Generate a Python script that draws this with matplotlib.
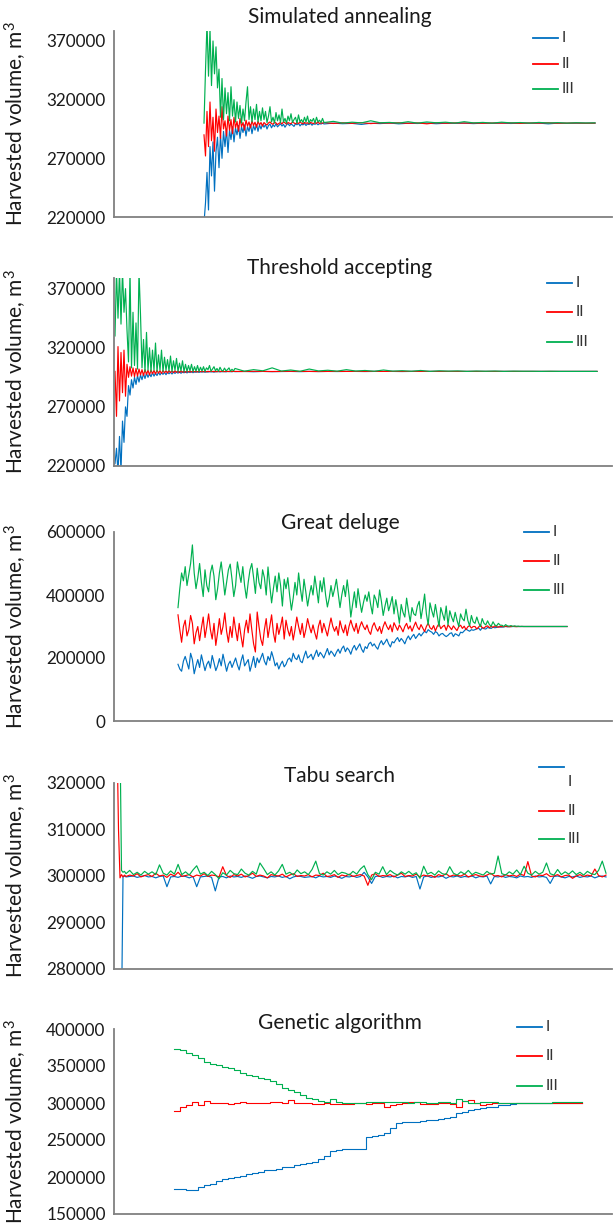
import numpy as np
import matplotlib
matplotlib.use("Agg")
import matplotlib.pyplot as plt

plt.rcParams['font.family'] = ['Lato', 'DejaVu Sans']
plt.rcParams['mathtext.fontset'] = 'custom'
plt.rcParams['mathtext.rm'] = 'Lato'
plt.rcParams['mathtext.it'] = 'Lato:italic'

# harvested volume, thousand m3
# --- Simulated annealing (80 dense points, then coarser)
sa_I = [215, 232, 258, 226, 280, 255, 284, 242, 276, 288,
        262, 290, 270, 293, 280, 295, 275, 294, 286, 297,
        284, 296, 290, 298, 287, 297, 292, 298.5, 289, 297,
        293, 299, 291, 298, 294, 299, 293, 298.5, 295, 299,
        296.5, 298.8, 295, 298, 299.2, 296, 298.5, 297, 299.5, 296.8,
        298.2, 299.4, 297.5, 299, 296.5, 298.6, 299.6, 297.8, 299.2, 298.4,
        297.2, 299.5, 298.6, 299.8, 297.6, 299.1, 298.5, 299.7, 298, 299.3,
        298.8, 299.9, 298.2, 299.5, 299, 299.8, 298.6, 299.6, 299.2, 299.9,
        299.3, 300, 299.5, 299.8, 298.9, 299.9, 299.6, 300.1, 299.4, 299.9,
        299.7, 300, 299.5, 299.9, 299.8, 300, 299.6, 300, 299.8, 300.1,
        299.7, 300, 299.9, 300, 299.4, 300, 299.8, 300, 299.9, 300]
sa_II = [290, 272, 310, 280, 318, 285, 305, 276, 312, 292,
         306, 287, 314, 295, 302, 289, 306, 294, 303, 291,
         305, 296, 301.5, 293, 304, 297, 300.5, 294, 302.5, 297.5,
         301, 296, 302, 298, 300.8, 296.5, 301.5, 298.5, 300.5, 297.5,
         300.5, 299.2, 298.5, 300.2, 301, 299.6, 299, 300.8, 300.1, 298.8,
         299.8, 300.6, 299.3, 301.2, 300.2, 299.2, 300.5, 299.9, 299.5, 300.9,
         300.2, 299.4, 300.4, 299.6, 301, 300, 299.5, 300.6, 299.8, 300.3,
         299.4, 300.7, 300, 299.7, 300.4, 299.8, 301.2, 299.6, 300.3, 299.9,
         300.5, 299.7, 300.3, 299.8, 300.4, 299.6, 300.2, 300, 300.3, 299.8,
         300.2, 299.4, 300.3, 299.9, 300.2, 300, 300.1, 299.9, 300.1, 300,
         300.2, 299.8, 300.1, 300, 300.3, 299.9, 300, 300.1, 299.9, 300]
sa_III = [300, 345, 385, 340, 380, 332, 370, 342, 365, 330,
          346, 305, 338, 303, 330, 308, 326, 302, 331, 306,
          320, 301, 318, 304, 315, 300, 312, 302, 318, 331,
          303, 314, 301, 312, 303, 316, 301, 310, 302, 313,
          303, 310, 300.5, 306, 314, 301, 305, 300, 309, 302,
          307, 300.5, 312, 301, 304, 300, 306, 302, 308, 300.5,
          303, 305, 300, 307, 301, 303, 300.5, 305, 301, 306,
          300, 303, 301.5, 304, 300, 305, 301, 302.5, 300.5, 304,
          300.5, 301.5, 300, 300.8, 300.2, 302, 300.3, 300.6, 300, 301.2,
          300, 301, 300.3, 300.8, 300, 301.2, 300.2, 300.6, 300, 300.8,
          300.2, 300.5, 300, 300.6, 300.1, 300.4, 300, 300.3, 300.1, 300.2]

# --- Threshold accepting (80 dense points, then coarser)
ta_I = [222, 235, 214, 245, 216, 258, 240, 270, 262, 288,
        280, 293, 286, 295, 289, 296.5, 291, 297, 293, 298,
        294, 298.5, 295, 298, 295.5, 299, 296, 298.5, 296.5, 299.2,
        297, 299, 297.5, 299.3, 297.2, 299.5, 298, 299.4, 297.8, 299.6,
        298.3, 299.5, 298.5, 299.8, 298.4, 299.6, 298.8, 299.8, 298.7, 299.7,
        299, 299.9, 298.9, 299.7, 299.2, 299.9, 299.1, 299.8, 299.3, 300,
        299.2, 299.8, 299.4, 300, 299.5, 299.8, 299.3, 299.9, 299.6, 300,
        299.5, 299.9, 299.7, 299.9, 299.6, 300, 299.8, 299.9, 299.7, 300,
        299.8, 300, 299.7, 300, 299.8, 299.9, 300, 299.8, 300, 299.9,
        300, 299.9, 300, 300, 299.9, 300, 300, 300, 299.9, 300,
        300, 300, 300, 300, 300, 300, 300, 300, 300, 300,
        300, 300, 300, 300, 300, 300, 300, 300, 300, 300]
ta_II = [300, 262, 321, 275, 316, 282, 318, 279, 306, 295,
         304, 296, 303, 295.5, 302.5, 296, 302, 297, 301.5, 296.5,
         301.5, 297.5, 301, 297, 301.2, 298, 300.8, 297.8, 301, 298.5,
         300.6, 298.3, 300.8, 298.8, 300.5, 298.6, 300.7, 299, 300.4, 298.9,
         300.5, 299.2, 300.3, 299, 300.4, 299.3, 300.2, 299.2, 300.3, 299.5,
         300.2, 299.4, 300.3, 299.6, 300.1, 299.5, 300.2, 299.7, 300.1, 299.6,
         300.2, 299.6, 300.1, 299.7, 300.2, 299.8, 300.1, 299.7, 300, 299.8,
         300.1, 299.9, 300, 299.8, 300.1, 299.9, 300, 299.9, 300, 300,
         300, 299.9, 300.1, 300, 299.9, 300, 300.1, 300, 300, 299.9,
         300, 300, 300, 300, 300, 300, 300, 300, 300, 300,
         300, 300, 300, 300, 300, 300, 300, 300, 300, 300,
         300, 300, 300, 300, 300, 300, 300, 300, 300, 300]
ta_III = [330, 385, 345, 385, 340, 385, 350, 370, 335, 308,
          385, 303, 350, 305, 341, 302, 385, 348, 303, 327,
          300, 333, 301, 320, 300, 318, 301, 324, 300, 314,
          301, 318, 300, 312, 301, 310, 300.5, 313, 300, 309,
          301, 311, 300, 307, 300.5, 309, 300, 306, 300, 305,
          300.5, 306, 300, 304, 300.2, 305, 300, 303.5, 300.3, 304,
          300, 303, 301.5, 305, 300.2, 302, 304, 300.5, 302.5, 300,
          303.5, 301, 300.3, 302.8, 300.5, 301.5, 303, 300.2, 301.8, 300.4,
          302.5, 300.2, 301.5, 300.5, 303, 300.3, 301.2, 300.1, 302, 300.4,
          301, 300.2, 301.5, 300.3, 300.8, 300.1, 301.2, 300.2, 300.6, 300.1,
          300.8, 300, 300.5, 300.2, 300.4, 300, 300.3, 300.1, 300.3, 300,
          300.2, 300.1, 300.1, 300, 300.1, 300, 300, 300, 300, 300]

# --- Great deluge (195 evenly sampled points, last 4 flat)
gd_I = [180, 165, 158, 190, 205, 185, 165, 215, 195, 150, 175, 195, 170, 210, 185,
        160, 180, 190, 168, 208, 185, 160, 175, 198, 175, 212, 185, 158, 180, 190,
        170, 185, 200, 178, 162, 190, 210, 175, 185, 195, 158, 180, 205, 170, 200,
        185, 200, 215, 190, 178, 205, 192, 220, 200, 175, 185, 165, 180, 190, 172,
        180, 195, 200, 188, 215, 200, 195, 210, 190, 185, 205, 222, 200, 205, 212,
        195, 210, 225, 205, 218, 210, 200, 215, 230, 210, 222, 215, 205, 218, 228,
        215, 230, 238, 220, 232, 225, 212, 230, 240, 225, 235, 245, 228, 218, 236,
        230, 245, 250, 238, 245, 235, 228, 245, 255, 242, 250, 260, 245, 235, 252,
        248, 258, 265, 252, 262, 255, 245, 260, 270, 258, 268, 275, 262, 270, 278,
        270, 278, 285, 280, 290, 285, 282, 275, 284, 280, 270, 276, 278, 272, 268,
        272, 278, 280, 268, 277, 274, 270, 282, 280, 286, 292, 288, 285, 290, 288,
        290, 293, 295, 288, 296, 293, 292, 297, 295, 294, 298, 296, 297, 299, 298,
        298, 299, 300, 299, 300, 299.5, 300, 300, 300, 300, 300, 300, 300, 300, 300,
        300, 300, 300, 300]
gd_II = [337, 290, 250, 300, 320, 270, 290, 335, 310, 245, 280, 300, 255, 295, 330,
         265, 300, 340, 290, 260, 310, 240, 280, 325, 275, 300, 343, 285, 250, 300,
         265, 330, 290, 255, 310, 270, 235, 290, 320, 280, 340, 290, 245, 219, 346,
         300, 260, 240, 290, 325, 265, 300, 337, 280, 250, 310, 275, 300, 330, 260,
         320, 290, 270, 300, 257, 290, 330, 300, 275, 310, 265, 290, 325, 300, 280,
         305, 280, 260, 300, 320, 280, 310, 290, 270, 300, 327, 300, 285, 300, 272,
         318, 295, 280, 305, 271, 300, 320, 300, 285, 310, 278, 300, 315, 300, 290,
         305, 285, 275, 300, 312, 295, 285, 300, 278, 300, 315, 300, 290, 305, 283,
         312, 300, 288, 305, 295, 283, 300, 310, 292, 302, 285, 300, 314, 298, 290,
         306, 295, 284, 300, 311, 296, 291, 303, 286, 300, 309, 293, 300, 304, 288,
         305, 298, 290, 302, 294, 287, 300, 304, 294, 301, 290, 299, 303, 295, 300,
         300, 292, 298, 305, 296, 295, 300, 302, 296, 301, 297, 302, 299, 298, 300,
         300, 299, 301, 300, 299, 300, 300.5, 300, 299.5, 300, 300, 300, 300, 300, 300,
         300, 300, 300, 300]
gd_III = [360, 420, 470, 445, 490, 430, 465, 500, 559, 470, 420, 455, 500, 440, 395,
          480, 430, 410, 470, 495, 460, 385, 420, 470, 505, 455, 400, 440, 480, 498,
          450, 395, 430, 505, 470, 440, 490, 430, 390, 440, 480, 500, 455, 405, 485,
          440, 420, 480, 455, 400, 489, 430, 375, 420, 460, 410, 470, 430, 365, 450,
          420, 455, 400, 352, 390, 440, 400, 470, 420, 380, 450, 410, 365, 400, 430,
          400, 460, 420, 375, 445, 410, 455, 400, 362, 390, 430, 395, 420, 450, 405,
          360, 400, 430, 395, 448, 400, 330, 370, 410, 360, 420, 380, 345, 375, 400,
          380, 410, 370, 340, 400, 385, 360, 416, 380, 335, 365, 390, 350, 370, 395,
          340, 385, 350, 310, 370, 345, 330, 390, 350, 315, 360, 340, 335, 365, 380,
          325, 360, 403, 340, 305, 375, 350, 330, 370, 335, 300, 360, 340, 320, 365,
          305, 350, 330, 315, 345, 320, 300, 340, 325, 318, 355, 320, 302, 335, 315,
          310, 330, 312, 300, 325, 310, 305, 318, 306, 301, 315, 305, 302, 310, 304,
          304, 300, 306, 302, 301, 303, 300, 302, 300.5, 301, 300, 300.5, 300, 300, 300,
          300, 300, 300, 300]

# --- Tabu search (6 dense points, then even)
ts_I = [270, 270, 270, 270, 299.8, 300,
        299.8, 299.9, 300.0, 299.7, 299.9, 300.1, 299.8, 299.9, 299.6, 299.9,
        300.0, 297.7, 299.8, 299.9, 299.7, 300.0, 299.9, 299.6, 299.9, 297.7,
        299.8, 299.9, 300.0, 299.7, 296.8, 299.8, 299.9, 299.6, 300.0, 299.8,
        299.9, 299.7, 300.0, 299.8, 299.5, 299.9, 300.0, 299.8, 299.6, 299.9,
        299.8, 300.0, 299.7, 299.9, 299.4, 299.8, 300.0, 299.9, 299.7, 299.8,
        299.9, 299.6, 300.0, 299.8, 299.9, 299.7, 300.0, 299.8, 299.5, 299.9,
        299.8, 300.0, 299.7, 299.9, 300.8, 299.8, 298.4, 299.9, 300.0, 299.7,
        299.9, 299.8, 300.0, 299.6, 299.9, 299.8, 300.0, 299.7, 299.9, 297.2,
        299.8, 300.0, 299.7, 299.9, 299.8, 300.0, 299.5, 299.9, 299.8, 300.0,
        299.7, 299.9, 299.8, 300.0, 299.6, 299.9, 299.8, 300.0, 298.3, 299.9,
        299.8, 300.0, 299.7, 299.9, 299.8, 299.6, 300.0, 299.8, 299.9, 299.7,
        300.0, 299.8, 299.9, 299.7, 298.4, 299.9, 300.0, 299.8, 299.6, 299.9,
        299.8, 300.0, 299.7, 299.9, 299.8, 300.0, 299.6, 299.9, 300.0, 299.8]
ts_II = [330, 310, 299.6, 300.3, 299.8, 300.2,
         299.9, 300.2, 300.0, 300.5, 299.8, 300.1, 300.3, 299.9, 300.6, 300.0,
         300.2, 299.7, 300.4, 300.0, 300.8, 299.9, 300.1, 300.3, 299.8, 300.2,
         300.0, 300.5, 299.9, 300.2, 300.1, 299.8, 302.0, 300.1, 299.7, 300.3,
         300.0, 300.4, 299.8, 300.1, 300.6, 299.9, 300.2, 300.0, 299.6, 300.3,
         300.1, 300.0, 300.4, 299.8, 300.2, 300.5, 299.9, 300.1, 300.0, 300.3,
         299.8, 300.2, 300.1, 300.6, 299.9, 300.0, 300.3, 299.7, 300.2, 300.0,
         300.4, 299.9, 300.1, 300.3, 300.0, 298.0, 300.2, 300.5, 299.9, 300.1,
         300.0, 300.3, 299.8, 300.2, 300.6, 299.9, 300.1, 300.0, 300.4, 299.8,
         300.2, 300.0, 300.1, 299.7, 300.3, 300.0, 300.5, 299.9, 300.2, 300.1,
         300.0, 300.4, 299.8, 300.1, 300.3, 300.0, 299.9, 300.2, 300.6, 300.0,
         300.1, 299.8, 300.3, 300.0, 300.2, 299.9, 300.4, 300.1, 303.1, 300.0,
         299.8, 300.2, 300.1, 300.5, 299.9, 300.0, 300.3, 299.8, 300.1, 300.2,
         299.5, 300.0, 300.3, 299.9, 300.2, 300.0, 301.5, 300.1, 299.8, 300.2]
ts_III = [330, 330, 330, 301.2, 300.8, 301,
          300.5, 301.2, 300.3, 300.8, 300.2, 301.0, 300.4, 300.9, 300.3, 302.4,
          300.6, 300.2, 301.1, 300.4, 302.5, 300.3, 300.9, 300.2, 301.3, 302.2,
          300.4, 300.8, 300.1, 301.0, 300.3, 299.4, 300.7, 300.2, 301.2, 300.5,
          300.3, 301.5, 300.6, 300.2, 301.0, 300.4, 302.8, 301.6, 300.3, 300.9,
          300.2, 301.1, 302.5, 300.4, 300.8, 300.2, 301.3, 300.5, 300.9, 300.3,
          301.4, 303.2, 300.5, 300.2, 300.9, 300.4, 301.2, 300.3, 300.8, 300.6,
          300.2, 301.0, 300.4, 301.5, 302.2, 300.3, 299.2, 300.8, 300.4, 302.0,
          300.3, 301.2, 300.6, 300.2, 300.9, 300.4, 301.0, 300.3, 300.7, 299.5,
          302.1, 300.4, 300.8, 300.2, 301.1, 300.5, 300.3, 302.0, 300.6, 300.2,
          300.9, 300.4, 301.2, 300.3, 300.8, 300.5, 300.2, 301.0, 300.4, 300.6,
          304.3, 300.5, 300.2, 300.9, 300.4, 301.3, 300.3, 302.1, 300.6, 300.2,
          301.0, 300.4, 300.8, 302.8, 300.5, 300.2, 301.4, 300.3, 300.9, 300.4,
          301.1, 300.3, 300.8, 300.2, 301.0, 300.5, 300.3, 301.2, 303.2, 300.6]

# --- Genetic algorithm (even, stepwise)
ga_I = [184, 184, 182, 183, 186, 189, 191, 195, 197, 199,
        200, 202, 204, 205, 207, 209, 210, 211, 213, 214,
        216, 218, 219, 220, 224, 229, 235, 237, 238, 238,
        238, 238, 254, 255, 257, 260, 266, 273, 274, 274.5,
        275, 276, 277, 277, 278, 280, 281, 286, 288, 291,
        292, 293, 294, 294.6, 297, 297.5, 299, 300, 300, 300,
        300, 300, 300, 300, 300, 300, 300, 300, 300]
ga_II = [289, 295, 297, 301, 297, 303, 300, 300, 300, 298,
         300, 302, 300, 300, 300, 300, 301, 302, 300, 304,
         300, 300, 300, 299, 298.5, 300, 298, 299, 299, 299,
         300, 300, 298, 300, 300.5, 295, 297, 298, 300, 301,
         301, 298, 299, 299, 300, 299.5, 299, 295, 303, 304,
         300, 297.5, 298, 299.5, 300, 300, 300, 300, 299.8, 300,
         300, 300, 300, 300, 300, 300, 300, 300, 300]
ga_III = [373, 371, 367, 365, 361, 356, 353, 351, 349, 347,
          344, 340, 338, 336, 334, 332, 330, 326, 320, 318,
          315, 311, 307, 305, 303, 302, 306, 301, 300, 300,
          299.5, 300, 301.5, 301, 302, 301, 302, 301.5, 302, 300,
          302, 302, 300, 300.5, 301, 301, 300.5, 305, 303, 300,
          299.5, 301, 301, 301, 300, 300, 300, 300.2, 300.3, 300.3,
          300.5, 300.5, 300.5, 300.8, 300.8, 300.8, 300.8, 300.8, 300.8]

titles = ["Simulated annealing", "Threshold accepting", "Great deluge",
          "Tabu search", "Genetic algorithm"]
series_names = ["I", "II", "III"]
colors = ["#0070C0", "#FF0000", "#00B050"]
yticks = [[220000, 270000, 320000, 370000],
          [220000, 270000, 320000, 370000],
          [0, 200000, 400000, 600000],
          [280000, 290000, 300000, 310000, 320000],
          [150000, 200000, 250000, 300000, 350000, 400000]]
ylims = [(220000, 378500), (220000, 379000), (0, 600000),
         (280000, 320000), (150000, 400000)]


def iter_x(vals, n_dense, step, span):
    # iterations: a dense start, then the rest spread to the end of the run
    head = np.arange(n_dense) * step
    tail = np.linspace(n_dense * step, span, len(vals) - n_dense)
    return np.concatenate([head, tail])


W, H = 616, 1226
fig = plt.figure(figsize=(W / 100, H / 100), dpi=100)

# layout in pixels: axes top/bottom, data start/end, legend spots
ax_left, ax_right = 114, 612
panels = [
    dict(data=[sa_I, sa_II, sa_III], dense=(80, 1.5), top=31, bot=217, start=204, end=595,
         title_y=17, leg_x=533, leg_y=[38, 64, 89]),
    dict(data=[ta_I, ta_II, ta_III], dense=(80, 1.5), top=278, bot=466, start=115, end=597,
         title_y=268, leg_x=547, leg_y=[283, 312, 342]),
    dict(data=[gd_I, gd_II, gd_III], dense=(195, 1.8), top=532, bot=721, start=178, end=567,
         title_y=523, leg_x=524, leg_y=[532, 561, 590]),
    dict(data=[ts_I, ts_II, ts_III], dense=(6, 1.5), top=783, bot=969, start=117, end=606,
         title_y=776, leg_x=539, leg_y=[767, 811, 839]),
    dict(data=[ga_I, ga_II, ga_III], dense=(0, 1.0), top=1029, bot=1214, start=174, end=582,
         title_y=1023, leg_x=517, leg_y=[1027, 1056, 1086]),
]

for k, p in enumerate(panels):
    ax = fig.add_axes([ax_left / W, 1 - p['bot'] / H,
                       (ax_right - ax_left) / W, (p['bot'] - p['top']) / H])
    span = p['end'] - p['start']
    for vals, c in zip(p['data'], colors):
        x = iter_x(vals, p['dense'][0], p['dense'][1], span)
        y = np.array(vals) * 1000
        if k == 4:
            ax.plot(x, y, color=c, lw=0.8, drawstyle='steps-post')
        else:
            ax.plot(x, y, color=c, lw=0.85)
    ax.set_xlim(-(p['start'] - ax_left), span + (ax_right - p['end']))
    ax.set_ylim(*ylims[k])
    ax.set_yticks(yticks[k])
    ax.set_yticklabels([str(t) for t in yticks[k]])
    ax.set_xticks([])
    ax.tick_params(axis='y', length=0, pad=6, labelsize=12.3, labelcolor='#1a1a1a')
    for s in ['top', 'right']:
        ax.spines[s].set_visible(False)
    for s in ['left', 'bottom']:
        ax.spines[s].set_color('#808080')
        ax.spines[s].set_linewidth(1.3)
    ax.set_ylabel("Harvested volume, m$^{3}$", fontsize=15, color='#1a1a1a')
    ax.yaxis.set_label_coords((29 - ax_left) / (ax_right - ax_left), 0.5)

    fig.text(340 / W, 1 - p['title_y'] / H, titles[k], fontsize=15,
             ha='center', va='center', color='#1a1a1a')

    # legend drawn by hand, Excel style
    for i, (name, c) in enumerate(zip(series_names, colors)):
        ly = 1 - p['leg_y'][i] / H
        x0 = p['leg_x'] / W
        x1 = (p['leg_x'] + 25) / W
        fig.add_artist(plt.Line2D([x0, x1], [ly, ly], color=c, lw=1.3,
                                  transform=fig.transFigure))
        ty = ly
        if k == 3 and i == 0:
            ty = 1 - (p['leg_y'][i] + 15) / H
        fig.text((p['leg_x'] + 29) / W, ty, name, fontsize=11,
                 ha='left', va='center', color='#333333')

fig.savefig("out.png", dpi=100)
